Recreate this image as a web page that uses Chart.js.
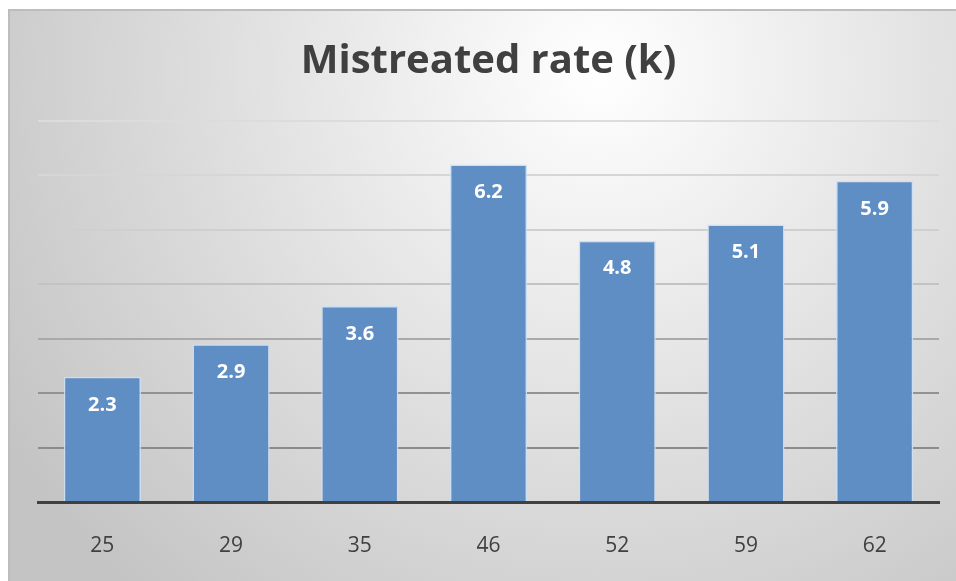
<!DOCTYPE html>
<html>
<head>
<meta charset="utf-8">
<script src="https://cdn.jsdelivr.net/npm/chart.js@4.4.1/dist/chart.umd.min.js"></script>
<style>
  html, body { margin: 0; padding: 0; background: #ffffff; }
  #wrap { width: 956px; height: 581px; }
</style>
</head>
<body>
<div id="wrap"><canvas id="chart" width="956" height="581"></canvas></div>
<script>
// Age groups and mistreated rate in thousands
const categories = ['25', '29', '35', '46', '52', '59', '62'];
const rates = [2.3, 2.9, 3.6, 6.2, 4.8, 5.1, 5.9];
const yTicks = [0, 1, 2, 3, 4, 5, 6, 7];

// Grid line shade for each tick value (lighter towards the top)
const gridShades = ['rgba(0,0,0,0)', '#8b8b8b', '#929292', '#a9a9a9', '#c3c3c3', '#cfcfcf', '#d6d6d6', '#dcdcdc'];

const panelBackground = {
  id: 'panelBackground',
  beforeDraw(chart) {
    const ctx = chart.ctx;
    const w = chart.width, h = chart.height;
    ctx.save();
    ctx.fillStyle = '#ffffff';
    ctx.fillRect(0, 0, w, h);
    const g = ctx.createRadialGradient(600, 70, 0, 600, 70, 700);
    g.addColorStop(0, '#ffffff');
    g.addColorStop(0.55, '#dedede');
    g.addColorStop(1, '#c4c4c4');
    ctx.fillStyle = g;
    ctx.fillRect(8, 10, w - 8, h - 10);
    ctx.strokeStyle = '#bdbdbd';
    ctx.lineWidth = 2;
    ctx.beginPath();
    ctx.moveTo(9, h);
    ctx.lineTo(9, 10);
    ctx.lineTo(w, 10);
    ctx.stroke();
    ctx.restore();
  }
};

const valueLabels = {
  id: 'valueLabels',
  afterDatasetsDraw(chart) {
    const ctx = chart.ctx;
    const meta = chart.getDatasetMeta(0);
    ctx.save();
    ctx.fillStyle = '#ffffff';
    ctx.font = 'bold 20px "Open Sans"';
    ctx.textAlign = 'center';
    ctx.textBaseline = 'middle';
    meta.data.forEach((bar, i) => {
      ctx.fillText(String(chart.data.datasets[0].data[i]), bar.x, bar.y + 28);
    });
    ctx.restore();
  }
};

new Chart(document.getElementById('chart'), {
  type: 'bar',
  data: {
    labels: categories,
    datasets: [{
      data: rates,
      backgroundColor: '#5f8ec5',
      borderColor: 'rgba(205,222,242,0.95)',
      borderWidth: 1.5,
      barPercentage: 0.6,
      categoryPercentage: 1.0
    }]
  },
  options: {
    responsive: false,
    animation: false,
    layout: { padding: { left: 38, right: 17, top: 0, bottom: 0 } },
    plugins: {
      legend: { display: false },
      tooltip: { enabled: false },
      title: {
        display: true,
        text: 'Mistreated rate (k)',
        color: '#404040',
        font: { family: '"Open Sans"', size: 40, weight: 'bold', lineHeight: 1.2 },
        padding: { top: 38, bottom: 35 }
      }
    },
    scales: {
      x: {
        afterFit(axis) { axis.height = 79; },
        grid: { display: false, drawTicks: false },
        border: { display: true, color: '#404040', width: 3 },
        ticks: {
          color: '#404040',
          font: { family: '"Open Sans"', size: 21 },
          padding: 31
        }
      },
      y: {
        min: 0,
        max: yTicks[yTicks.length - 1],
        afterBuildTicks(axis) { axis.ticks = yTicks.map(v => ({ value: v })); },
        ticks: { display: false },
        border: { display: false },
        grid: {
          drawTicks: false,
          lineWidth: 2,
          color: (c) => gridShades[c.tick ? c.tick.value : 0] || '#cccccc'
        }
      }
    }
  },
  plugins: [panelBackground, valueLabels]
});
</script>
</body>
</html>
